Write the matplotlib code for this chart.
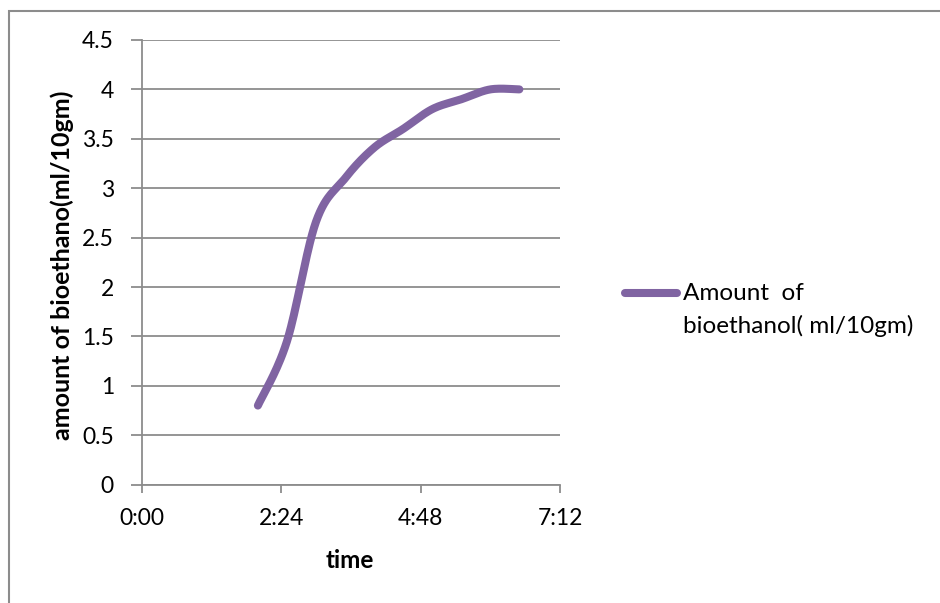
import numpy as np
import matplotlib
matplotlib.use("Agg")
import matplotlib.pyplot as plt
from matplotlib.patches import Rectangle
from matplotlib.lines import Line2D

plt.rcParams['font.family'] = ['Lato', 'DejaVu Sans']

# data (time in hours)
time_h = [2.0, 2.5, 3.0, 3.5, 4.0, 4.5, 5.0, 5.5, 6.0, 6.5]
ethanol = [0.8, 1.45, 2.66, 3.1, 3.41, 3.6, 3.8, 3.9, 4.0, 4.0]
xticks = [0, 2.4, 4.8, 7.2]
xtick_labels = ['0:00', '2:24', '4:48', '7:12']
yticks = [0, 0.5, 1, 1.5, 2, 2.5, 3, 3.5, 4, 4.5]
ytick_labels = ['0', '0.5', '1', '1.5', '2', '2.5', '3', '3.5', '4', '4.5']

purple = '#8064A2'
grid_col = '#8c8c8c'


def smooth(x, y, n=30):
    # bezier smoothing like the spreadsheet "smoothed line"
    p = np.column_stack([x, y]).astype(float)
    pts = np.vstack([p[0], p, p[-1]])
    out = []
    for i in range(1, len(pts) - 2):
        p0, p1 = pts[i], pts[i + 1]
        c1 = p0 + (pts[i + 1] - pts[i - 1]) / 6
        c2 = p1 - (pts[i + 2] - pts[i]) / 6
        t = np.linspace(0, 1, n)[:, None]
        seg = (1 - t) ** 3 * p0 + 3 * (1 - t) ** 2 * t * c1 + 3 * (1 - t) * t ** 2 * c2 + t ** 3 * p1
        out.append(seg if i == 1 else seg[1:])
    out = np.vstack(out)
    return out[:, 0], out[:, 1]


fig = plt.figure(figsize=(9.4, 6.03), dpi=100)
ax = fig.add_axes([141.7 / 940, 1 - 484.6 / 603, 418.3 / 940, 444.6 / 603])

sx, sy = smooth(time_h, ethanol)
ax.plot(sx, sy, color=purple, lw=5.8, solid_capstyle='round', solid_joinstyle='round', zorder=3)

ax.set_xlim(0, 7.2)
ax.set_ylim(0, 4.5)
ax.set_xticks(xticks)
ax.set_xticklabels(xtick_labels)
ax.set_yticks(yticks)
ax.set_yticklabels(ytick_labels)
ax.yaxis.grid(True, color=grid_col, lw=1.3)
ax.set_axisbelow(True)

for s in ['top', 'right']:
    ax.spines[s].set_visible(False)
for s in ['left', 'bottom']:
    ax.spines[s].set_color(grid_col)
    ax.spines[s].set_linewidth(1.3)
ax.tick_params(axis='both', colors=grid_col, labelcolor='black', labelsize=16.5, width=1.3)
ax.tick_params(axis='y', length=8, pad=12)
ax.tick_params(axis='x', length=6, pad=11)

ax.set_ylabel('amount of bioethano(ml/10gm)', fontsize=18, fontweight='bold', va='center')
ax.yaxis.set_label_coords((62 - 141.7) / 418.3, 0.494)
ax.set_xlabel('time', fontsize=17.5, fontweight='bold', va='center')
ax.xaxis.set_label_coords((350 - 141.7) / 418.3, (484.6 - 560) / 444.6)

# legend drawn by hand
fig.add_artist(Line2D([625 / 940, 677 / 940], [1 - 293 / 603, 1 - 293 / 603], color=purple, lw=5.8,
                      solid_capstyle='round'))
fig.text(683 / 940, 1 - 293 / 603, 'Amount  of', fontsize=17.5, va='center', ha='left')
fig.text(683 / 940, 1 - 326 / 603, 'bioethanol( ml/10gm)', fontsize=17.5, va='center', ha='left')

# chart area border
fig.add_artist(Rectangle((8.5 / 940, -0.1), 1.2, 1.1 - 11 / 603, transform=fig.transFigure,
                         fill=False, edgecolor=grid_col, lw=1.5))

fig.savefig('out.png', dpi=100)
